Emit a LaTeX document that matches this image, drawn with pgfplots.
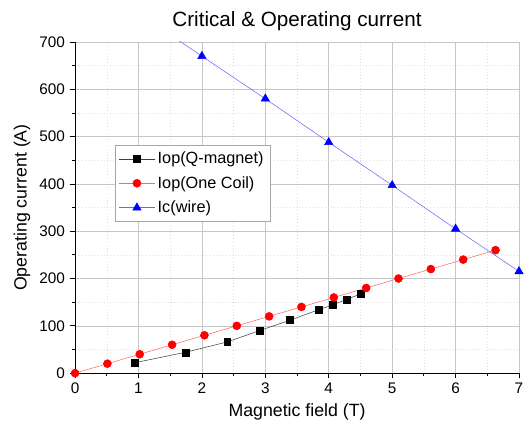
\documentclass[border=0pt]{standalone}
\usepackage{fontspec}
\setmainfont{Liberation Sans}
\usepackage{pgfplots}
\pgfplotsset{compat=1.18}
\begin{document}
\begin{tikzpicture}
\begin{axis}[
  scale only axis,
  width=333pt, height=248.4pt,
  xmin=0, xmax=7, ymin=0, ymax=700,
  xtick={0,1,...,7}, ytick={0,100,...,700},
  minor x tick num=1, minor y tick num=1,
  axis x line*=bottom, axis y line*=left,
  axis line style={black, semithick, -},
  tick align=outside,
  major tick length=4pt, minor tick length=2.5pt,
  tick style={black, semithick},
  xmajorgrids, ymajorgrids, xminorgrids, yminorgrids,
  major grid style={gray!45, thin},
  minor grid style={gray!25, dotted},
  /pgf/number format/assume math mode=true,
  ticklabel style={font=\fontsize{11.5}{13}\selectfont},
  title={Critical \& Operating current},
  title style={font=\fontsize{15.5}{17}\selectfont, yshift=-1pt},
  xlabel={Magnetic field (T)},
  ylabel={Operating current (A)},
  label style={font=\fontsize{13.3}{15}\selectfont},
  legend style={at={(rel axis cs:0.089,0.689)}, anchor=north west,
    font=\fontsize{12.2}{14}\selectfont, draw=gray!70, thin,
    row sep=4pt, inner sep=3pt},
  legend cell align=left,
  legend image code/.code={
    \draw[mark repeat=2, mark phase=2] plot coordinates {(0cm,0cm) (0.47cm,0cm) (0.94cm,0cm)};
  },
]
\addplot[black!75, thin, mark=square*, mark size=2.6pt,
  mark options={fill=black, draw=black}] coordinates {
  (0.94,22) (1.74,44) (2.40,66) (2.91,90) (3.39,112)
  (3.84,134) (4.06,144) (4.28,156) (4.50,167)
};
\addlegendentry{Iop(Q-magnet)}
\addplot[red!60, thin, mark=*, mark size=3pt,
  mark options={fill=red, draw=red}] coordinates {
  (0,0) (0.51,20) (1.02,40) (1.53,60) (2.04,80) (2.55,100) (3.06,120)
  (3.57,140) (4.08,160) (4.59,180) (5.10,200) (5.61,220) (6.12,240) (6.63,260)
};
\addlegendentry{Iop(One Coil)}
\addplot[blue!60, thin, mark=triangle*, mark size=3.6pt,
  mark options={fill=blue, draw=blue}] coordinates {
  (1,761) (2,670) (3,580) (4,488) (5,397) (6,305) (7,215)
};
\addlegendentry{Ic(wire)}
\end{axis}
\pgfresetboundingbox
\path ([xshift=-56.3pt,yshift=-42.8pt]current axis.south west)
  rectangle ([xshift=4.5pt,yshift=31.5pt]current axis.north east);
\end{tikzpicture}
\end{document}
